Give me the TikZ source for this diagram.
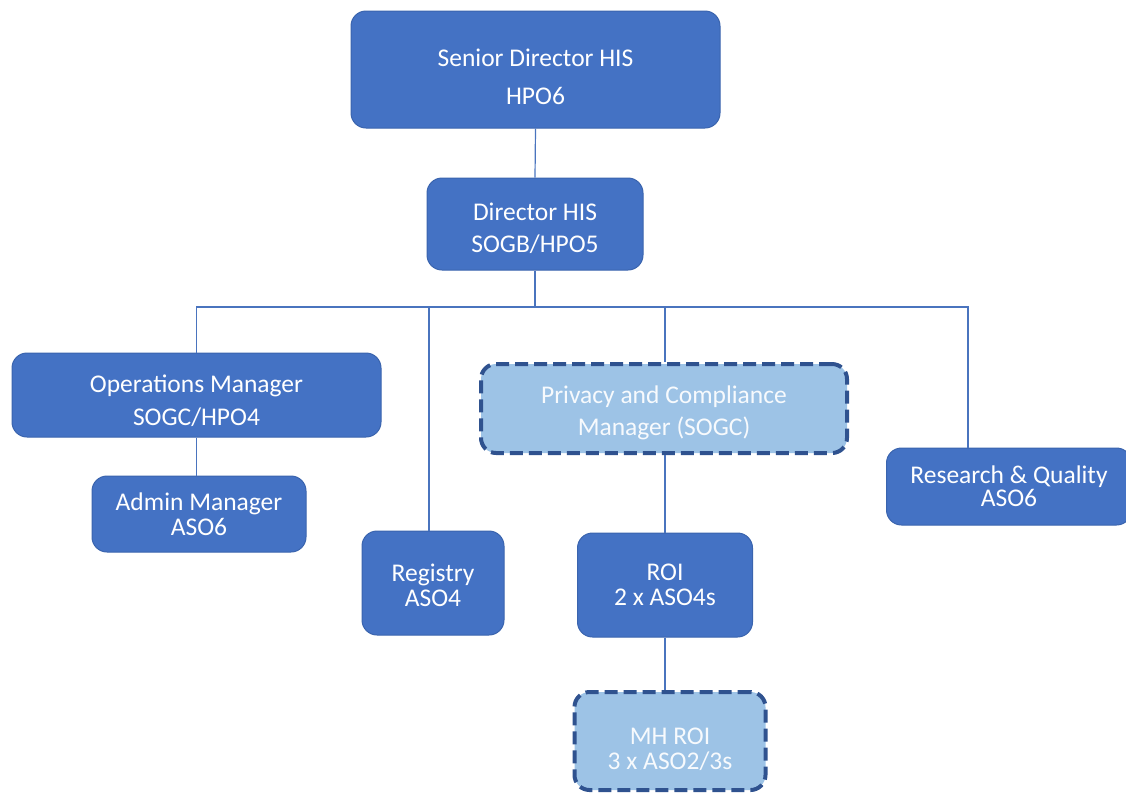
\documentclass[tikz,border=0pt]{standalone}
\usepackage{fontspec}
\setmainfont{Carlito}
\definecolor{boxfill}{HTML}{4472C4}
\definecolor{boxedge}{HTML}{3A64AE}
\definecolor{lightfill}{HTML}{9DC3E6}
\definecolor{dashedge}{HTML}{2F528F}
\definecolor{linkcol}{HTML}{4A74BE}
\newcommand\lowerby[1]{\rule{0pt}{\numexpr20+2*#1\relax pt}}
\begin{document}
\begin{tikzpicture}[x=1pt,y=-1pt,
  dark/.style={draw=boxedge,line width=1pt,fill=boxfill,rounded corners=15pt,text=white,align=center,inner sep=0pt,font=\fontsize{25.5}{25}\selectfont},
  light/.style={draw=dashedge,line width=4pt,dash pattern=on 13pt off 6pt,fill=lightfill,rounded corners=15pt,text=white!92!lightfill,align=center,inner sep=0pt,font=\fontsize{25.5}{25}\selectfont},
  link/.style={draw=linkcol,line width=1.2pt}]
\useasboundingbox (0,0) rectangle (1126,796);
\clip (0,0) rectangle (1126,796);

\node[dark,minimum width=369pt,minimum height=117pt,font=\fontsize{25.5}{38}\selectfont] (sen) at (535.5,69.5) {\lowerby{6}Senior Director HIS\\HPO6};
\node[dark,minimum width=216pt,minimum height=92pt,font=\fontsize{25.5}{32}\selectfont] (dir) at (535,224) {\lowerby{3}Director HIS\\SOGB/HPO5};
\node[dark,minimum width=369pt,minimum height=84pt,font=\fontsize{25.5}{33}\selectfont] (ops) at (196.5,395) {\lowerby{5}Operations Manager\\SOGC/HPO4};
\node[dark,minimum width=214pt,minimum height=76pt] (adm) at (199,514) {Admin Manager\\ASO6};
\node[dark,minimum width=142pt,minimum height=104pt] (reg) at (433,583) {\lowerby{1}Registry\\ASO4};
\node[light,minimum width=366pt,minimum height=89pt,font=\fontsize{25.5}{32}\selectfont] (priv) at (664,408.5) {\lowerby{3}Privacy and Compliance\\Manager (SOGC)};
\node[dark,minimum width=175pt,minimum height=104pt] (roi) at (665,585) {ROI\\2 x ASO4s};
\node[light,minimum width=191pt,minimum height=98pt,font=\fontsize{25.5}{25}\selectfont] (mh) at (670,741) {\lowerby{7}MH ROI\\3 x ASO2/3s};
\node[dark,minimum width=245pt,minimum height=77pt,font=\fontsize{25.5}{23}\selectfont] (res) at (1009,486.5) {Research \& Quality\\ASO6};

\coordinate (bus) at (535,307);
\coordinate (resin) at (968,448);
\coordinate (regin) at (429,531);

\draw[link] (sen.south) -- (dir.north);
\draw[link] (dir.south) -- (bus);
\draw[link] (ops.north) |- (resin |- bus) -- (resin);
\draw[link] (regin |- bus) -- (regin);
\draw[link] (priv.north -| 665,0) -- (665,307);
\draw[link] (665,455) -- (roi.north);
\draw[link] (ops.south) -- (adm.north -| ops.south);
\draw[link] (roi.south) -- (mh.north -| roi.south);
\end{tikzpicture}
\end{document}
